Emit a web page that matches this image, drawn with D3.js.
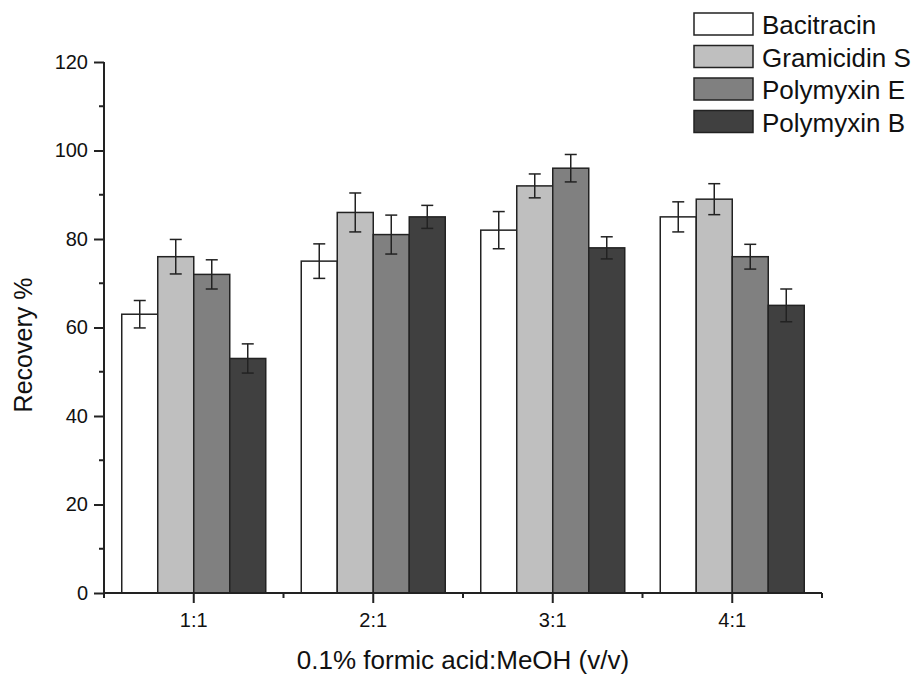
<!DOCTYPE html>
<html>
<head>
<meta charset="utf-8">
<script src="https://cdn.jsdelivr.net/npm/d3@7"></script>
<style>
    body { margin: 0; background: #fff; }
    text { font-family: "Liberation Sans", Arial, sans-serif; fill: #111; }
</style>
</head>
<body>
<div id="chart"></div>
<script>

// categories and series
let categories = ["1:1", "2:1", "3:1", "4:1"];
let seriesNames = ["Bacitracin", "Gramicidin S", "Polymyxin E", "Polymyxin B"];
let seriesColors = ["#ffffff", "#bfbfbf", "#808080", "#404040"];

// recovery % per series (one value per category)
let bacitracin = [63, 75, 82, 85];
let gramicidinS = [76, 86, 92, 89];
let polymyxinE = [72, 81, 96, 76];
let polymyxinB = [53, 85, 78, 65];

// error bars (+/-)
let bacitracinErr = [3.1, 3.9, 4.2, 3.4];
let gramicidinSErr = [3.9, 4.4, 2.7, 3.5];
let polymyxinEErr = [3.3, 4.4, 3.1, 2.8];
let polymyxinBErr = [3.3, 2.6, 2.5, 3.7];

let yTicks = [0, 20, 40, 60, 80, 100, 120];
let yMinorTicks = [10, 30, 50, 70, 90, 110];

let allValues = [bacitracin, gramicidinS, polymyxinE, polymyxinB];
let allErrors = [bacitracinErr, gramicidinSErr, polymyxinEErr, polymyxinBErr];

// build flat list for drawing
let bars = [];
categories.forEach((c, i) => {
    seriesNames.forEach((s, j) => {
        bars.push({cat: c, series: s, idx: j, value: allValues[j][i], err: allErrors[j][i]});
    });
});

let width = 914, height = 674;
let margin = {top: 62, right: 92, bottom: 81, left: 104};

let svg = d3.select("#chart").append("svg")
    .attr("width", width)
    .attr("height", height);

// scales
let x = d3.scaleBand()
    .domain(categories)
    .range([margin.left, width - margin.right])
    .padding(0);

let xInner = d3.scaleBand()
    .domain(seriesNames)
    .range([0, x.bandwidth()])
    .paddingInner(0)
    .paddingOuter(0.493);

let y = d3.scaleLinear()
    .domain([0, 120])
    .range([height - margin.bottom, margin.top]);

// bars
svg.append("g").selectAll("rect")
    .data(bars)
    .enter()
    .append("rect")
    .attr("x", d => x(d.cat) + xInner(d.series))
    .attr("y", d => y(d.value))
    .attr("width", xInner.bandwidth())
    .attr("height", d => y(0) - y(d.value))
    .attr("fill", d => seriesColors[d.idx])
    .attr("stroke", "#222")
    .attr("stroke-width", 1.5);

// error bars
let errG = svg.append("g")
    .attr("stroke", "#222")
    .attr("stroke-width", 1.5);

let cap = 6;
bars.forEach(d => {
    let cx = x(d.cat) + xInner(d.series) + xInner.bandwidth() / 2;
    errG.append("line")
        .attr("x1", cx).attr("x2", cx)
        .attr("y1", y(d.value + d.err)).attr("y2", y(d.value - d.err));
    errG.append("line")
        .attr("x1", cx - cap).attr("x2", cx + cap)
        .attr("y1", y(d.value + d.err)).attr("y2", y(d.value + d.err));
    errG.append("line")
        .attr("x1", cx - cap).attr("x2", cx + cap)
        .attr("y1", y(d.value - d.err)).attr("y2", y(d.value - d.err));
});

// y axis
let yAxis = d3.axisLeft(y)
    .tickValues(yTicks)
    .tickSize(10)
    .tickPadding(6)
    .tickFormat(d3.format("d"));

let yAxisG = svg.append("g")
    .attr("transform", `translate(${margin.left}, 0)`)
    .call(yAxis);

yAxisG.append("g").selectAll("line")
    .data(yMinorTicks)
    .enter()
    .append("line")
    .attr("x1", -5).attr("x2", 0)
    .attr("y1", d => y(d)).attr("y2", d => y(d));

// x axis
let xAxis = d3.axisBottom(x)
    .tickSize(10)
    .tickPadding(10);

let xAxisG = svg.append("g")
    .attr("transform", `translate(0, ${y(0)})`)
    .call(xAxis);

// minor ticks at category boundaries
let xBoundaries = categories.map(c => x(c)).concat([x(categories[categories.length - 1]) + x.bandwidth()]);
xAxisG.append("g").selectAll("line")
    .data(xBoundaries)
    .enter()
    .append("line")
    .attr("x1", d => d).attr("x2", d => d)
    .attr("y1", 0).attr("y2", 5);

// axis styling
svg.selectAll(".domain")
    .attr("stroke", "#222")
    .attr("stroke-width", 2);
yAxisG.selectAll("line").attr("stroke", "#222").attr("stroke-width", 2);
xAxisG.selectAll("line").attr("stroke", "#222").attr("stroke-width", 2);
// plain domain lines without end bends
yAxisG.select(".domain").attr("d", `M0,${y(120)}V${y(0)}`);
xAxisG.select(".domain").attr("d", `M${margin.left},0H${width - margin.right}`);

yAxisG.attr("font-size", 20).attr("font-family", null);
xAxisG.attr("font-size", 20).attr("font-family", null);
svg.selectAll(".tick text").attr("fill", "#111");

// axis titles
svg.append("text")
    .attr("x", (margin.left + width - margin.right) / 2)
    .attr("y", 669)
    .attr("text-anchor", "middle")
    .attr("font-size", "26px")
    .text("0.1% formic acid:MeOH (v/v)");

svg.append("text")
    .attr("transform", `translate(32, 345) rotate(-90)`)
    .attr("text-anchor", "middle")
    .attr("font-size", "25px")
    .text("Recovery %");

// legend
let legend = svg.append("g")
    .attr("transform", "translate(694, 13)");

let legendItems = legend.selectAll(".legend-item")
    .data(seriesNames)
    .enter()
    .append("g")
    .attr("class", "legend-item")
    .attr("transform", (d, i) => `translate(0, ${i * 32.5})`);

legendItems.append("rect")
    .attr("width", 59)
    .attr("height", 22)
    .attr("fill", (d, i) => seriesColors[i])
    .attr("stroke", "#222")
    .attr("stroke-width", 1.5);

legendItems.append("text")
    .attr("x", 68)
    .attr("y", 21)
    .attr("font-size", "26px")
    .text(d => d);

</script>
</body>
</html>
